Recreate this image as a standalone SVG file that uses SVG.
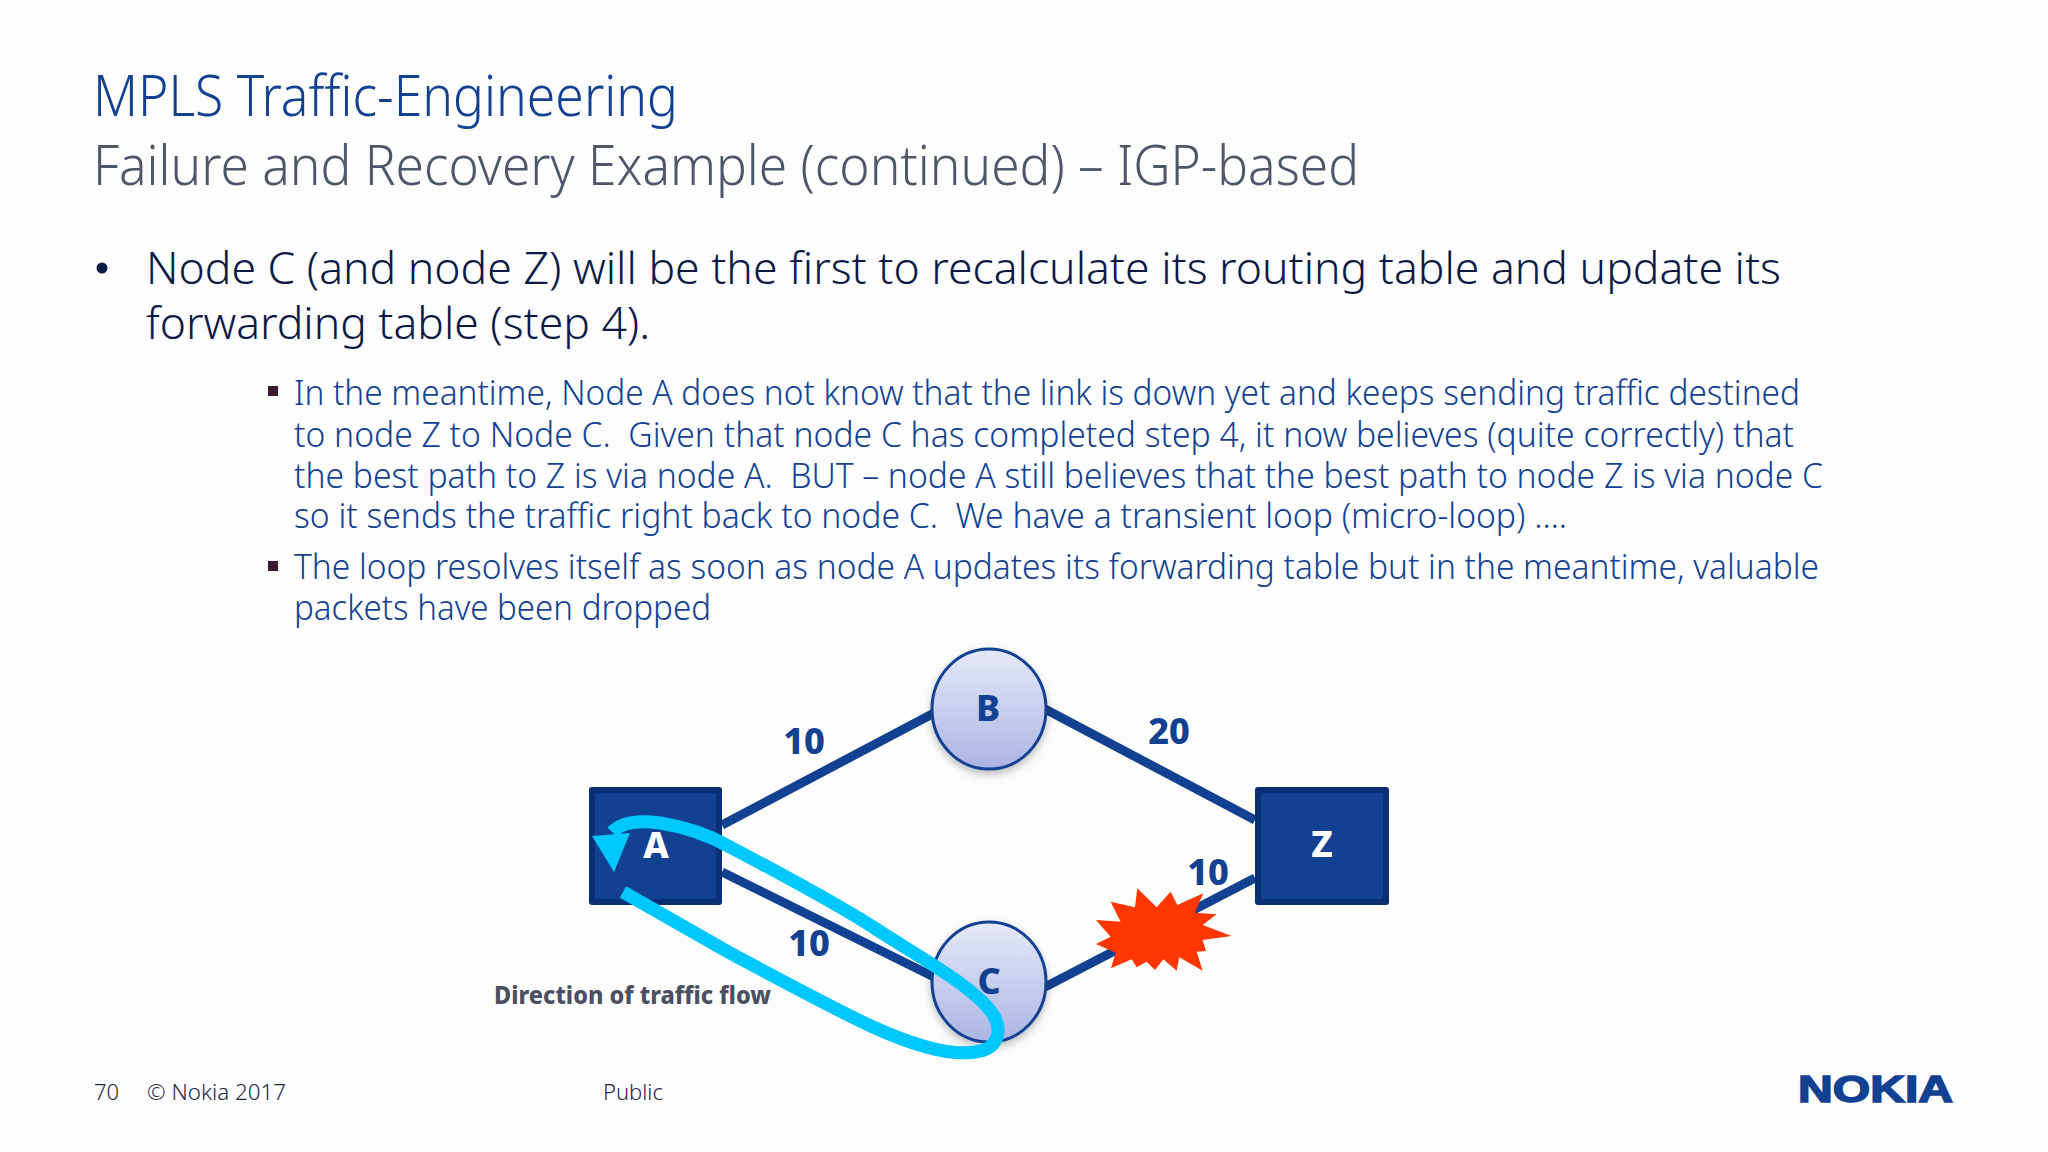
<svg xmlns="http://www.w3.org/2000/svg" width="2048" height="1152" viewBox="0 0 2048 1152">
<style>
text{font-family:"Noto Sans","Open Sans","Liberation Sans",sans-serif;white-space:pre}
.t{font-size:57px;font-weight:300;fill:#124191}
.s{font-size:56px;font-weight:300;fill:#50566a}
.m{font-size:44px;font-weight:300;fill:#0b1a45}
.b{font-size:34px;font-weight:300;fill:#124191}
.f{font-size:22px;font-weight:300;fill:#1f2747}
.n{font-size:36px;font-weight:800;fill:#124191;text-anchor:middle}
.w{fill:#fff}
.box{fill:#124191;stroke:#0a2f75;stroke-width:6;stroke-linejoin:round}
.circ{fill:url(#g);stroke:#124191;stroke-width:3;filter:url(#sh)}
.link{stroke:#124191;stroke-width:9;fill:none}
</style>
<defs>
<linearGradient id="g" x1="0" y1="0" x2="0" y2="1"><stop offset="0" stop-color="#e6e9f8"/><stop offset="1" stop-color="#abb5e4"/></linearGradient>
<filter id="sh" x="-20%" y="-20%" width="140%" height="140%"><feDropShadow dx="0" dy="4" stdDeviation="4" flood-color="#000" flood-opacity=".25"/></filter>
</defs>
<rect width="2048" height="1152" fill="#fdfdfe"/>
<text class="t" x="93" y="116" textLength="585" lengthAdjust="spacingAndGlyphs">MPLS Traffic-Engineering</text>
<text class="s" x="93" y="185" textLength="1266" lengthAdjust="spacingAndGlyphs">Failure and Recovery Example (continued) – IGP-based</text>
<circle cx="102" cy="268" r="5.5" fill="#0b1a45"/>
<text class="m" x="146" y="284" textLength="1635" lengthAdjust="spacingAndGlyphs">Node C (and node Z) will be the first to recalculate its routing table and update its</text>
<text class="m" x="146" y="339" textLength="504" lengthAdjust="spacingAndGlyphs">forwarding table (step 4).</text>
<rect x="268" y="386" width="10" height="10" fill="#3a1a30"/>
<text class="b" x="294" y="405" textLength="1506" lengthAdjust="spacingAndGlyphs">In the meantime, Node A does not know that the link is down yet and keeps sending traffic destined</text>
<text class="b" x="294" y="447" textLength="1500" lengthAdjust="spacingAndGlyphs">to node Z to Node C.  Given that node C has completed step 4, it now believes (quite correctly) that</text>
<text class="b" x="294" y="488" textLength="1529" lengthAdjust="spacingAndGlyphs">the best path to Z is via node A.  BUT – node A still believes that the best path to node Z is via node C</text>
<text class="b" x="294" y="528" textLength="1273" lengthAdjust="spacingAndGlyphs">so it sends the traffic right back to node C.  We have a transient loop (micro-loop) ….</text>
<rect x="268" y="561" width="10" height="10" fill="#3a1a30"/>
<text class="b" x="294" y="579" textLength="1525" lengthAdjust="spacingAndGlyphs">The loop resolves itself as soon as node A updates its forwarding table but in the meantime, valuable</text>
<text class="b" x="294" y="620" textLength="417" lengthAdjust="spacingAndGlyphs">packets have been dropped</text>
<g id="connectors">
<line class="link" x1="722" y1="825" x2="936" y2="712"/>
<line class="link" x1="1045" y1="709" x2="1255" y2="820"/>
<line class="link" x1="722" y1="872" x2="936" y2="978"/>
<line class="link" x1="1045" y1="987" x2="1255" y2="878"/>
</g>
<g id="node-B"><ellipse class="circ" cx="989" cy="709" rx="57" ry="60"/><text class="n" x="988" y="721">B</text></g>
<g id="node-C"><ellipse class="circ" cx="989" cy="982" rx="57" ry="60"/><text class="n" x="989" y="994">C</text></g>
<g id="node-A"><rect class="box" x="592" y="790" width="127" height="112"/><text class="n w" x="656" y="858">A</text></g>
<g id="node-Z"><rect class="box" x="1258" y="790" width="128" height="112"/><text class="n w" x="1322" y="857">Z</text></g>
<text class="n" x="804" y="754">10</text>
<text class="n" x="1169" y="744">20</text>
<text class="n" x="1208" y="885">10</text>
<text class="n" x="809" y="956">10</text>
<text x="494" y="1004" font-size="25" font-weight="800" fill="#4a5060" textLength="277" lengthAdjust="spacingAndGlyphs">Direction of traffic flow</text>
<polygon id="burst" transform="translate(1000 630) scale(.3333)" fill="#ff3600" points="412,775 470,832 512,785 532,825 610,790 585,848 650,853 608,885 695,918 608,930 618,963 590,965 608,1022 538,982 530,1022 490,988 465,1020 440,995 410,1012 395,988 333,1015 347,968 288,942 332,920 288,870 362,875 332,815 405,832"/>
<g id="flow">
<path d="M623 892 L730 953 C790 985 840 1012 873 1027 C915 1046 950 1056 975 1052 C997 1050 1003 1032 994 1016 C978 988 915 955 873 927 C830 900 770 868 730 847 C705 833 680 826 660 823 C640 820 622 822 612 832" fill="none" stroke="#00c8ff" stroke-width="13"/>
<polygon points="592,836 630,833 614,872" fill="#00c8ff"/>
</g>
<text class="f" x="94" y="1100">70</text>
<text class="f" x="147" y="1100" textLength="139" lengthAdjust="spacingAndGlyphs">© Nokia 2017</text>
<text class="f" x="603" y="1100">Public</text>
<text x="1798" y="1102" font-size="36" font-weight="700" fill="#124191" stroke="#124191" stroke-width="1.5" textLength="155" lengthAdjust="spacingAndGlyphs" style="font-family:'Liberation Sans',sans-serif">NOKIA</text>
</svg>
